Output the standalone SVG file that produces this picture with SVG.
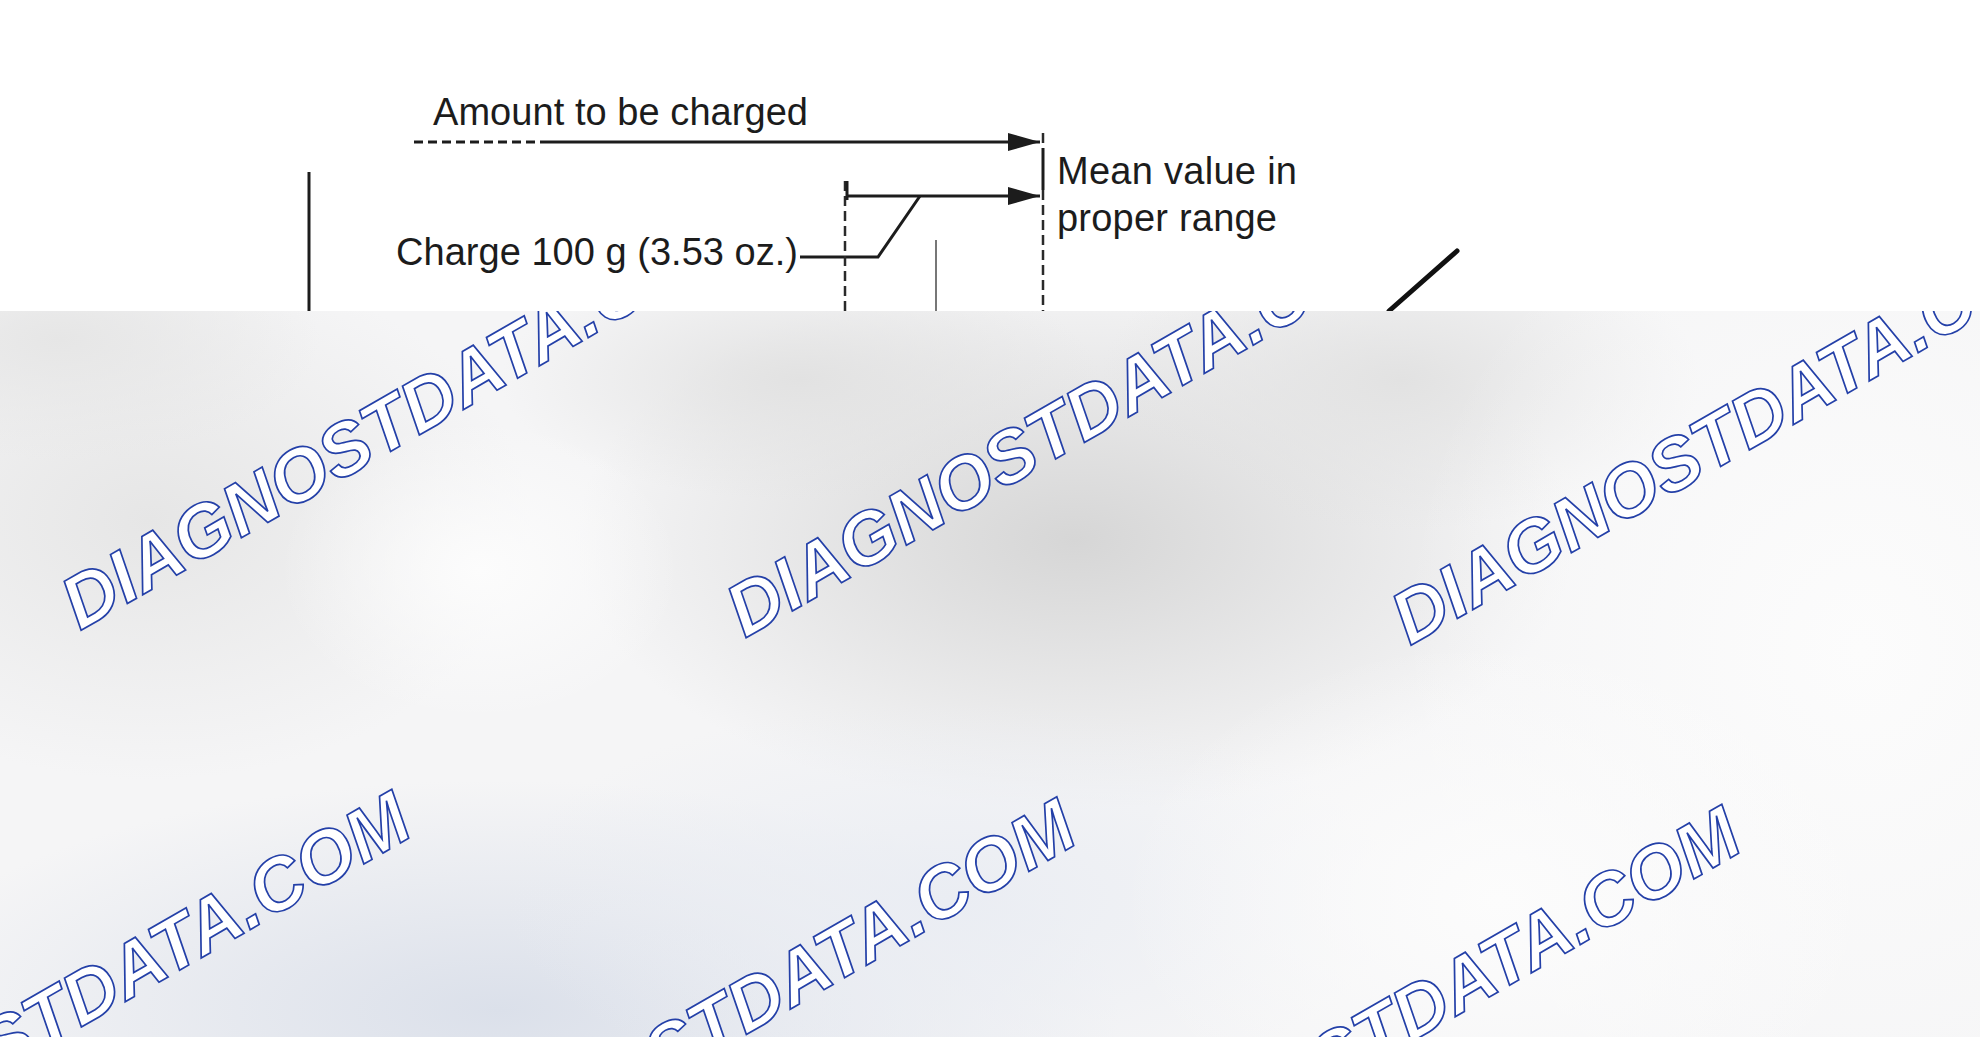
<svg xmlns="http://www.w3.org/2000/svg" width="1980" height="1037" viewBox="0 0 1980 1037">
  <style>
    .lbl { font-family: "Liberation Sans", Arial, sans-serif; font-size: 38px; fill: #1c1c1c; }
    .ln { stroke: #1c1c1c; stroke-width: 3; fill: none; }
    .dash { stroke: #2a2a2a; stroke-width: 2.5; fill: none; stroke-dasharray: 10 5; }
    .wm { font-family: "Liberation Sans", Arial, sans-serif; font-size: 74px; font-weight: bold; font-style: italic; fill: #ffffff; stroke: #2440a8; stroke-width: 1.7; }
  </style>
  <defs>
    <marker id="arr" markerUnits="userSpaceOnUse" viewBox="0 0 32 18" refX="32" refY="9" markerWidth="32" markerHeight="18" orient="auto">
      <path d="M0,0 L32,9 L0,18 Z" fill="#1c1c1c"/>
    </marker>
    <clipPath id="band"><rect x="0" y="311" width="1980" height="726"/></clipPath>
    <radialGradient id="gDark"><stop offset="0" stop-color="#d6d6d6"/><stop offset="1" stop-color="#d6d6d6" stop-opacity="0"/></radialGradient>
    <radialGradient id="gMid"><stop offset="0" stop-color="#e2e2e2"/><stop offset="1" stop-color="#e2e2e2" stop-opacity="0"/></radialGradient>
    <radialGradient id="gLeft"><stop offset="0" stop-color="#e6e6e6"/><stop offset="1" stop-color="#e6e6e6" stop-opacity="0"/></radialGradient>
    <radialGradient id="gBlue"><stop offset="0" stop-color="#dbe0ea"/><stop offset="1" stop-color="#dbe0ea" stop-opacity="0"/></radialGradient>
    <radialGradient id="gWhite"><stop offset="0" stop-color="#fcfcfc"/><stop offset="1" stop-color="#fcfcfc" stop-opacity="0"/></radialGradient>
    <radialGradient id="gPaleBlue"><stop offset="0" stop-color="#eaedf3"/><stop offset="1" stop-color="#eaedf3" stop-opacity="0"/></radialGradient>
  </defs>

  <rect x="0" y="0" width="1980" height="1037" fill="#ffffff"/>

  <g id="connectors">
    <path class="ln" d="M414,142 L547,142" stroke-dasharray="9 5"/>
    <path class="ln" d="M547,142 L1040,142" marker-end="url(#arr)"/>
    <path class="ln" d="M847,196 L1040,196" marker-end="url(#arr)"/>
    <path class="ln" d="M800,257 L878,257 L920,196"/>
    <line class="ln" x1="309" y1="172" x2="309" y2="311"/>
    <line class="dash" x1="845" y1="181" x2="845" y2="311"/>
    <line class="ln" x1="847" y1="181" x2="847" y2="200" stroke-width="2.5"/>
    <line class="dash" x1="1043" y1="133" x2="1043" y2="148" stroke-dasharray="4 4"/>
    <line class="ln" x1="1043" y1="148" x2="1043" y2="190" stroke-width="2.5"/>
    <line class="dash" x1="1043" y1="190" x2="1043" y2="311"/>
    <line x1="936" y1="240" x2="936" y2="311" stroke="#555555" stroke-width="1.6"/>
    <line x1="1457" y1="251" x2="1389" y2="311" stroke="#111111" stroke-width="5" stroke-linecap="round"/>
  </g>

  <g id="label-amount"><text class="lbl" x="433" y="125" textLength="375">Amount to be charged</text></g>
  <g id="label-charge"><text class="lbl" x="396" y="265" textLength="402">Charge 100 g (3.53 oz.)</text></g>
  <g id="label-mean">
    <text class="lbl" x="1057" y="184" font-size="37" textLength="240">Mean value in</text>
    <text class="lbl" x="1057" y="231" font-size="37" textLength="220">proper range</text>
  </g>

  <g id="watermark-band" clip-path="url(#band)">
    <rect x="0" y="311" width="1980" height="726" fill="#f5f5f6"/>
    <ellipse cx="150" cy="520" rx="380" ry="260" fill="url(#gLeft)"/>
    <ellipse cx="60" cy="340" rx="260" ry="120" fill="url(#gLeft)"/>
    <ellipse cx="1075" cy="540" rx="500" ry="270" fill="url(#gDark)"/>
    <ellipse cx="1400" cy="380" rx="300" ry="150" fill="url(#gMid)"/>
    <ellipse cx="800" cy="380" rx="300" ry="120" fill="url(#gMid)"/>
    <ellipse cx="500" cy="1010" rx="620" ry="230" fill="url(#gBlue)"/>
    <ellipse cx="950" cy="900" rx="450" ry="200" fill="url(#gPaleBlue)"/>
    <ellipse cx="480" cy="570" rx="200" ry="150" fill="url(#gWhite)"/>
    <ellipse cx="1860" cy="650" rx="460" ry="520" fill="url(#gWhite)"/>
    <ellipse cx="1500" cy="900" rx="380" ry="260" fill="url(#gWhite)"/>

    <g id="watermarks">
      <text class="wm" transform="translate(80,631) rotate(-30)">DIAGNOSTDATA.COM</text>
      <text class="wm" transform="translate(745,638.5) rotate(-30)">DIAGNOSTDATA.COM</text>
      <text class="wm" transform="translate(1410,646) rotate(-30)">DIAGNOSTDATA.COM</text>
      <text class="wm" transform="translate(-258,1223) rotate(-30)">DIAGNOSTDATA.COM</text>
      <text class="wm" transform="translate(407,1230.5) rotate(-30)">DIAGNOSTDATA.COM</text>
      <text class="wm" transform="translate(1072,1238) rotate(-30)">DIAGNOSTDATA.COM</text>
    </g>
  </g>
</svg>
